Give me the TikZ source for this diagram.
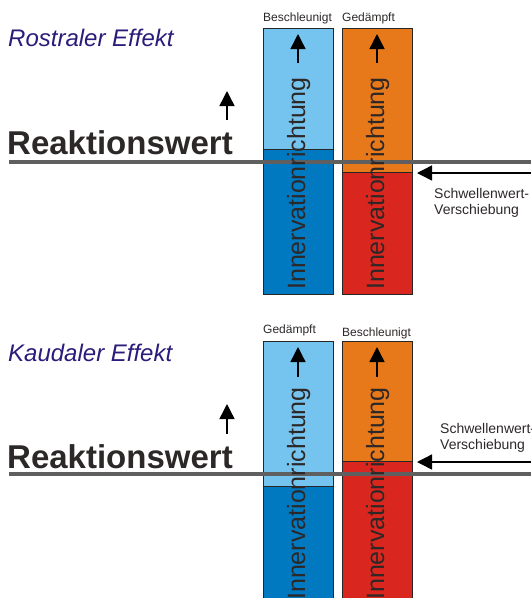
\documentclass[tikz,border=0pt]{standalone}
\usepackage{fontspec}
\setmainfont{Liberation Sans}
\usepackage[]{color}
\usetikzlibrary{arrows.meta}

\definecolor{hellblau}{RGB}{117,196,239}
\definecolor{dunkelblau}{RGB}{0,121,192}
\definecolor{orangeton}{RGB}{232,121,26}
\definecolor{rotton}{RGB}{217,38,30}
\definecolor{liniengrau}{RGB}{95,95,95}
\definecolor{titelblau}{RGB}{42,28,122}
\definecolor{textgrau}{RGB}{45,40,40}

\begin{document}
\begin{tikzpicture}[x=1pt,y=-1pt]
\tikzset{
    balken/.style={draw=black!85, line width=0.8pt},
    pfeil/.style={-{Triangle[length=15pt,width=15pt]}, line width=1.4pt},
    schwelle/.style={line width=4pt, draw=liniengrau},
    beschriftung/.style={inner sep=0pt, anchor=base west},
    titel/.style={beschriftung, font=\fontsize{24}{28}\selectfont\itshape, text=titelblau},
    wert/.style={beschriftung, font=\fontsize{33}{40}\selectfont\bfseries, text=textgrau},
    klein/.style={beschriftung, font=\fontsize{12}{14}\selectfont, text=textgrau},
    hinweis/.style={beschriftung, font=\fontsize{14}{16}\selectfont, text=textgrau},
    richtung/.style={beschriftung, rotate=90, font=\fontsize{25}{30}\selectfont, text=textgrau}
}
    \path[use as bounding box] (0,0) rectangle (531,598);
    \clip (0,0) rectangle (531,598);

    \filldraw[balken, fill=hellblau] (263,28) rectangle (333,149);
    \filldraw[balken, fill=dunkelblau] (263,149) rectangle (333,294);
    \filldraw[balken, fill=orangeton] (342,28) rectangle (412,172);
    \filldraw[balken, fill=rotton] (342,172) rectangle (412,294);

    \node[titel] (rostral) at (8,46) {Rostraler Effekt};
    \node[wert] (wertA) at (7,154) {Reaktionswert};
    \node[klein] (beschlA) at (263,21) {Beschleunigt};
    \node[klein] (gedA) at (342,21) {Gedämpft};
    \node[hinweis] (schwA) at (434,198) {Schwellenwert-};
    \node[hinweis] (verA) at (434,214) {Verschiebung};

    \draw[schwelle] (9,161.5) -- (531,161.5);

    \coordinate (hebA1) at (227,120);
    \coordinate (hebA2) at (227,91);
    \coordinate (blauA1) at (298,63);
    \coordinate (blauA2) at (298,34);
    \coordinate (orA1) at (377,63);
    \coordinate (orA2) at (377,34);
    \coordinate (randA) at (531,173);
    \coordinate (kanteA) at (417,173);

    \draw[pfeil] (hebA1) -- (hebA2);
    \draw[pfeil] (blauA1) -- (blauA2);
    \draw[pfeil] (orA1) -- (orA2);
    \draw[pfeil] (randA) -- (kanteA);

    \node[richtung] (innA1) at (305,290) {Innervationrichtung};
    \node[richtung] (innA2) at (384,290) {Innervationrichtung};

    \filldraw[balken, fill=hellblau] (263,341) rectangle (333,486);
    \filldraw[balken, fill=dunkelblau] (263,486) rectangle (333,607);
    \filldraw[balken, fill=orangeton] (342,341) rectangle (412,461);
    \filldraw[balken, fill=rotton] (342,461) rectangle (412,607);

    \node[titel] (kaudal) at (8,361) {Kaudaler Effekt};
    \node[wert] (wertB) at (7,468) {Reaktionswert};
    \node[klein] (gedB) at (263,333) {Gedämpft};
    \node[klein] (beschlB) at (342,336) {Beschleunigt};
    \node[hinweis] (schwB) at (440,433) {Schwellenwert-};
    \node[hinweis] (verB) at (440,449) {Verschiebung};

    \draw[schwelle] (9,474) -- (531,474);

    \coordinate (hebB1) at (227,434);
    \coordinate (hebB2) at (227,404);
    \coordinate (blauB1) at (298,377);
    \coordinate (blauB2) at (298,347);
    \coordinate (orB1) at (377,377);
    \coordinate (orB2) at (377,347);
    \coordinate (randB) at (531,462);
    \coordinate (kanteB) at (417,462);

    \draw[pfeil] (hebB1) -- (hebB2);
    \draw[pfeil] (blauB1) -- (blauB2);
    \draw[pfeil] (orB1) -- (orB2);
    \draw[pfeil] (randB) -- (kanteB);

    \node[richtung] (innB1) at (305,600) {Innervationrichtung};
    \node[richtung] (innB2) at (384,600) {Innervationrichtung};
\end{tikzpicture}
\end{document}
